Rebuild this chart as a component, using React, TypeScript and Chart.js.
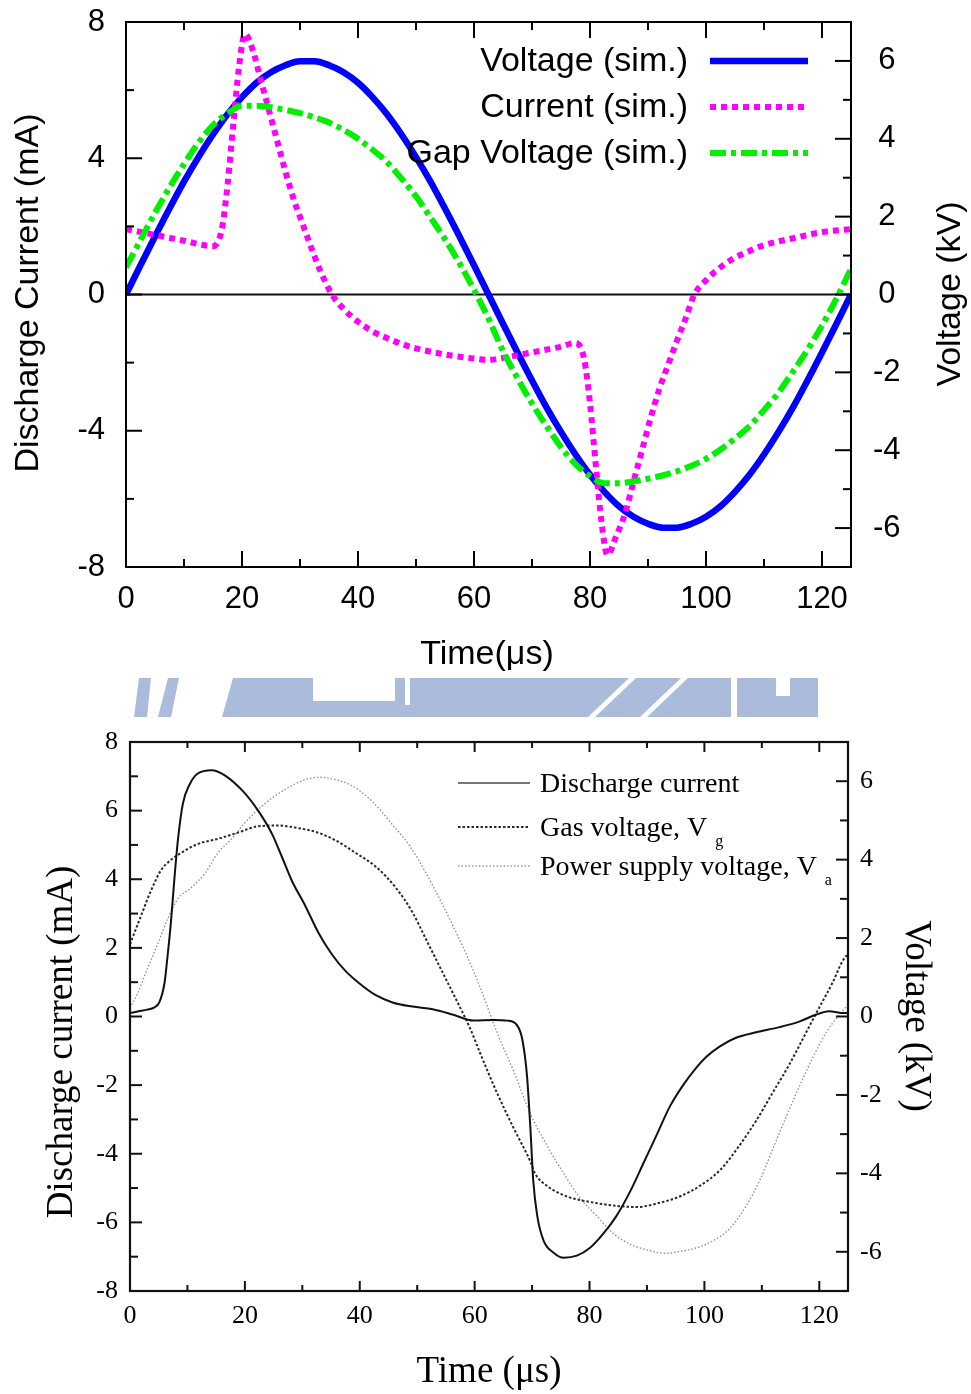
import React, { useEffect, useRef } from "react";
import { Chart, registerables } from "chart.js";
Chart.register(...registerables);

// ---------------- Top chart: simulation ----------------
const simTime = [0, 2.5, 5, 7.5, 10, 12.5, 15, 17.5, 20, 22.5, 25, 27.5, 30, 32.5, 35, 37.5, 40, 42.5, 45, 47.5, 50,
  52.5, 55, 57.5, 60, 62.5, 65, 67.5, 70, 72.5, 75, 77.5, 80, 82.5, 85, 87.5, 90, 92.5, 95, 97.5, 100,
  102.5, 105, 107.5, 110, 112.5, 115, 117.5, 120, 122.5, 125];
const simVoltage = [0, 0.75, 1.49, 2.21, 2.9, 3.53, 4.11, 4.63, 5.07, 5.44, 5.71, 5.89, 5.99, 5.99, 5.89, 5.71, 5.44,
  5.07, 4.63, 4.11, 3.53, 2.9, 2.21, 1.49, 0.75, 0, -0.75, -1.49, -2.21, -2.9, -3.53, -4.11, -4.63, -5.07, -5.44,
  -5.71, -5.89, -5.99, -5.99, -5.89, -5.71, -5.44, -5.07, -4.63, -4.11, -3.53, -2.9, -2.21, -1.49, -0.75, 0];
const simGapVoltage = [0.7, 1.4, 2.1, 2.75, 3.35, 3.9, 4.35, 4.65, 4.85, 4.85, 4.81, 4.74, 4.66, 4.55, 4.42, 4.23, 4.0,
  3.72, 3.4, 2.98, 2.52, 1.98, 1.42, 0.8, 0.12, -0.62, -1.45, -2.15, -2.8, -3.38, -3.92, -4.36, -4.66, -4.85, -4.85,
  -4.8, -4.73, -4.65, -4.54, -4.4, -4.22, -3.98, -3.7, -3.38, -2.97, -2.52, -1.98, -1.42, -0.8, -0.1, 0.66];
const simCurrentTime = [0, 5, 10, 15, 16.5, 17.5, 18.5, 19.5, 20.5, 22, 23, 24.5, 26, 27.5, 29, 30.5, 32, 33.5, 35.5,
  37.5, 40, 42.5, 45, 47.5, 50, 55, 60, 62.5, 65, 70, 75, 77.5, 79, 80, 81, 82, 83, 84.5, 86, 87.5, 89, 90.5, 92,
  93.5, 95, 96.5, 98, 100, 102.5, 105, 107.5, 110, 115, 120, 125];
const simCurrent = [1.92, 1.75, 1.58, 1.42, 1.9, 3.2, 5.0, 6.7, 7.65, 7.1, 6.45, 5.5, 4.55, 3.6, 2.75, 2.05, 1.35, 0.7,
  0.0, -0.42, -0.8, -1.08, -1.28, -1.45, -1.58, -1.76, -1.88, -1.92, -1.86, -1.7, -1.53, -1.42, -1.9, -3.2, -5.0,
  -6.7, -7.65, -7.1, -6.45, -5.5, -4.55, -3.6, -2.75, -2.05, -1.35, -0.7, 0.0, 0.42, 0.8, 1.08, 1.28, 1.45, 1.65,
  1.83, 1.92];
const simLabels = ["Gap Voltage (sim.)", "Current (sim.)", "Voltage (sim.)"];

const xMajorTicks = [0, 20, 40, 60, 80, 100, 120];
const xMinorTicks = [10, 30, 50, 70, 90, 110];
const topLeftTicks = [-8, -4, 0, 4, 8];
const topLeftMinor = [-6, -2, 2, 6];
const rightTicks = [-6, -4, -2, 0, 2, 4, 6];
const rightMinor = [-5, -3, -1, 1, 3, 5];

// ---------------- Bottom chart: experiment ----------------
const expCurrentTime = [0, 1.5, 3, 4.2, 5.1, 6, 6.5, 7.1, 7.7, 8.3, 9.2, 10.4, 11.8, 14.2, 16.5, 19.7, 22.3, 24.7,
  26.4, 28.2, 30.5, 32.9, 35.2, 37.5, 39.9, 42.8, 45.7, 49.2, 52.7, 56.3, 59.8, 63.4, 65.7, 67.4, 68.3, 69.1, 69.7,
  70.2, 70.9, 72, 73.8, 75.5, 77.8, 80.1, 82.4, 84.7, 87.1, 89.4, 91.7, 94, 96.3, 98.6, 100.3, 102.7, 105.5, 109,
  113.1, 116.5, 119.4, 121.7, 124.3, 125];
const expCurrent = [0.1, 0.15, 0.2, 0.26, 0.41, 0.97, 1.7, 2.7, 3.95, 5.08, 6.2, 6.77, 7.08, 7.18, 7.03, 6.56, 6.0,
  5.33, 4.67, 3.95, 3.23, 2.41, 1.8, 1.33, 0.97, 0.62, 0.41, 0.29, 0.21, 0.05, -0.12, -0.1, -0.12, -0.26, -0.67,
  -1.7, -3.24, -4.78, -5.81, -6.53, -6.89, -7.03, -6.97, -6.74, -6.33, -5.81, -5.09, -4.27, -3.45, -2.62, -2.0,
  -1.49, -1.18, -0.87, -0.62, -0.46, -0.31, -0.15, 0.05, 0.15, 0.1, 0.1];
const expGasTime = [0, 1.9, 3.6, 5.4, 7.1, 8.9, 11.8, 15.3, 18.8, 22.3, 25.8, 29.4, 32.3, 35.8, 39.3, 42.8, 46.3, 49.2,
  51.6, 54.5, 57.4, 59.2, 61, 63.9, 66.8, 69.7, 70.5, 72.6, 76.1, 80.1, 84.2, 88.2, 91.7, 95.7, 99.2, 102.7, 106.1,
  109, 111.9, 114.8, 117.7, 120, 122.3, 124, 125];
const expGasVoltage = [1.84, 2.56, 3.19, 3.73, 3.99, 4.17, 4.4, 4.53, 4.69, 4.85, 4.87, 4.8, 4.71, 4.49, 4.17, 3.82,
  3.28, 2.65, 1.95, 1.1, 0.25, -0.3, -0.95, -1.95, -2.85, -3.7, -4.0, -4.32, -4.59, -4.73, -4.82, -4.86, -4.77,
  -4.59, -4.32, -3.92, -3.29, -2.66, -1.94, -1.22, -0.41, 0.23, 0.86, 1.4, 1.6];
const expSupplyTime = [0, 1.3, 3, 4.8, 6.5, 8.3, 10.6, 13, 15.3, 17.7, 20, 23.5, 27, 30.5, 32.9, 35.2, 38.7, 42.2,
  45.7, 48.7, 51.6, 53.9, 56.3, 58.6, 60.9, 63.9, 66.8, 69.7, 72.6, 75.5, 78.4, 81.3, 84.2, 87.1, 89.9, 93.4, 95.7,
  98.6, 101.5, 104.4, 107.3, 109.6, 111.9, 114.2, 116.6, 118.9, 121.2, 123.5, 125];
const expSupplyVoltage = [0.22, 0.58, 1.21, 1.84, 2.47, 3.0, 3.28, 3.64, 4.17, 4.53, 4.94, 5.43, 5.79, 6.04, 6.1,
  6.06, 5.88, 5.48, 4.89, 4.35, 3.64, 3.0, 2.29, 1.57, 0.76, -0.41, -1.4, -2.48, -3.29, -4.0, -4.64, -5.09, -5.54,
  -5.81, -5.95, -6.04, -5.99, -5.9, -5.72, -5.41, -4.82, -4.19, -3.38, -2.57, -1.76, -1.04, -0.41, 0.05, 0.3];
const expLabels = ["Discharge current", "Gas voltage, V", "Power supply voltage, V"];
const expLabelSubs = ["", "g", "a"];
const expLeftTicks = [-8, -6, -4, -2, 0, 2, 4, 6, 8];
const expLeftMinor = [-7, -5, -3, -1, 1, 3, 5, 7];

const pts = (xs: number[], ys: number[]) => xs.map((x, i) => ({ x, y: ys[i] }));
const setTicks = (vals: number[]) => (s: any) => {
  s.ticks = vals.map((v) => ({ value: v }));
};
const fixSize = (w: number | null, h: number | null) => (s: any) => {
  if (w !== null) s.width = w;
  if (h !== null) s.height = h;
  s.paddingTop = 0;
  s.paddingBottom = 0;
  s.paddingLeft = 0;
  s.paddingRight = 0;
};

function decor(spec: any) {
  return {
    id: "decor",
    beforeDatasetsDraw(chart: any) {
      if (!spec.zeroLine) return;
      const { ctx, chartArea: a, scales } = chart;
      const y = scales.y.getPixelForValue(0);
      ctx.save();
      ctx.strokeStyle = spec.zeroLine.color;
      ctx.lineWidth = spec.zeroLine.width;
      ctx.beginPath();
      ctx.moveTo(a.left, y);
      ctx.lineTo(a.right, y);
      ctx.stroke();
      ctx.restore();
    },
    afterDatasetsDraw(chart: any) {
      const { ctx, chartArea: a, scales } = chart;
      const t = spec.ticks;
      ctx.save();
      ctx.setLineDash([]);
      ctx.lineCap = "butt";
      ctx.strokeStyle = t.color;
      ctx.lineWidth = t.width;
      const seg = (x1: number, y1: number, x2: number, y2: number) => {
        ctx.beginPath();
        ctx.moveTo(x1, y1);
        ctx.lineTo(x2, y2);
        ctx.stroke();
      };
      const xs = (vals: number[], len: number) =>
        vals.forEach((v) => {
          const p = scales.x.getPixelForValue(v);
          seg(p, a.bottom, p, a.bottom - len);
          seg(p, a.top, p, a.top + len);
        });
      xs(t.xMajor, t.xMajorLen);
      xs(t.xMinor, t.xMinorLen);
      t.yMajor.forEach((v: number) => { const p = scales.y.getPixelForValue(v); seg(a.left, p, a.left + t.yMajorLen, p); });
      t.yMinor.forEach((v: number) => { const p = scales.y.getPixelForValue(v); seg(a.left, p, a.left + t.yMinorLen, p); });
      t.y2Major.forEach((v: number) => { const p = scales.y2.getPixelForValue(v); seg(a.right, p, a.right - t.yMajorLen, p); });
      t.y2Minor.forEach((v: number) => { const p = scales.y2.getPixelForValue(v); seg(a.right, p, a.right - t.yMinorLen, p); });
      ctx.strokeStyle = spec.frame.color;
      ctx.lineWidth = spec.frame.width;
      ctx.strokeRect(a.left, a.top, a.right - a.left, a.bottom - a.top);

      ctx.fillStyle = "#000";
      spec.titles.forEach((ti: any) => {
        ctx.save();
        ctx.translate(ti.x, ti.y);
        ctx.rotate(ti.rot);
        ctx.font = ti.font;
        ctx.textAlign = "center";
        ctx.textBaseline = "middle";
        ctx.fillText(ti.text, 0, 0);
        ctx.restore();
      });

      const L = spec.legend;
      L.order.forEach((di: number, row: number) => {
        const ds = chart.data.datasets[di];
        const y = L.rowsY[row];
        ctx.save();
        ctx.strokeStyle = L.sampleColors ? L.sampleColors[row] : ds.borderColor;
        ctx.lineWidth = ds.borderWidth;
        ctx.setLineDash(ds.borderDash || []);
        ctx.beginPath();
        ctx.moveTo(L.sx1, y);
        ctx.lineTo(L.sx2, y);
        ctx.stroke();
        ctx.restore();
        ctx.font = L.font;
        ctx.textAlign = L.align;
        ctx.textBaseline = "middle";
        ctx.fillStyle = "#000";
        ctx.fillText(ds.label, L.tx, y + L.textDy);
        if (L.subs && L.subs[row]) {
          const w = ctx.measureText(ds.label).width;
          ctx.font = L.subFont;
          ctx.textAlign = "left";
          ctx.fillText(L.subs[row], L.tx + w + L.subDx, y + L.textDy + L.subDy);
        }
      });
      ctx.restore();
    },
  };
}

const sans = '"Liberation Sans", Arial, sans-serif';
const serif = '"Liberation Serif", "Times New Roman", serif';

function axisBase(font: any, padding: number, crossAlign = "near") {
  return {
    type: "linear",
    grid: { display: false, drawTicks: false },
    border: { display: false },
    ticks: { font, color: "#000", padding, autoSkip: false, maxRotation: 0, crossAlign },
  };
}

function topConfig(): any {
  const font = { family: sans, size: 31 };
  const line = { pointRadius: 0, fill: false, cubicInterpolationMode: "monotone", borderCapStyle: "butt", borderJoinStyle: "round" };
  return {
    type: "line",
    data: {
      datasets: [
        { ...line, label: simLabels[0], data: pts(simTime, simGapVoltage), yAxisID: "y2", borderColor: "#00f000", borderWidth: 6, borderDash: [16, 5, 5, 5], order: 0 },
        { ...line, label: simLabels[1], data: pts(simCurrentTime, simCurrent), yAxisID: "y", borderColor: "#ff00ff", borderWidth: 6, borderDash: [6, 5], order: 1 },
        { ...line, label: simLabels[2], data: pts(simTime, simVoltage), yAxisID: "y2", borderColor: "#0000ff", borderWidth: 6.5, order: 2 },
      ],
    },
    options: {
      responsive: false,
      animation: false,
      devicePixelRatio: 1,
      events: [],
      layout: { padding: { top: 22, left: 0, right: 0, bottom: 0 } },
      plugins: { legend: { display: false }, tooltip: { enabled: false } },
      scales: {
        x: { ...axisBase(font, 14), position: "bottom", min: 0, max: 125, afterBuildTicks: setTicks(xMajorTicks), afterFit: fixSize(null, 123) },
        y: { ...axisBase(font, 21), position: "left", min: -8, max: 8, afterBuildTicks: setTicks(topLeftTicks), afterFit: fixSize(126, null) },
        y2: { ...axisBase(font, 22, "center"), position: "right", min: -7, max: 7, afterBuildTicks: setTicks(rightTicks), afterFit: fixSize(120, null) },
      },
    },
    plugins: [
      decor({
        zeroLine: { color: "#111", width: 2 },
        frame: { color: "#000", width: 2 },
        ticks: { color: "#000", width: 2, xMajor: xMajorTicks, xMinor: xMinorTicks, xMajorLen: 16, xMinorLen: 8, yMajor: topLeftTicks, yMinor: topLeftMinor, y2Major: rightTicks, y2Minor: rightMinor, yMajorLen: 16, yMinorLen: 8 },
        titles: [
          { text: "Discharge Current (mA)", x: 29, y: 293, rot: -Math.PI / 2, font: `34px ${sans}` },
          { text: "Voltage (kV)", x: 951, y: 294, rot: -Math.PI / 2, font: `34px ${sans}` },
          { text: "Time(μs)", x: 487, y: 655, rot: 0, font: `34px ${sans}` },
        ],
        legend: { order: [2, 1, 0], rowsY: [61, 107, 153], font: `34px ${sans}`, align: "right", tx: 688, textDy: 1, sx1: 710, sx2: 808 },
      }),
    ],
  };
}

function bottomConfig(): any {
  const font = { family: serif, size: 26 };
  const line = { pointRadius: 0, fill: false, cubicInterpolationMode: "monotone", borderCapStyle: "butt", borderJoinStyle: "round" };
  return {
    type: "line",
    data: {
      datasets: [
        { ...line, label: expLabels[0], data: pts(expCurrentTime, expCurrent), yAxisID: "y", borderColor: "#111", borderWidth: 2, order: 0 },
        { ...line, label: expLabels[1], data: pts(expGasTime, expGasVoltage), yAxisID: "y2", borderColor: "#2a2a2a", borderWidth: 2, borderDash: [2.5, 2], order: 1 },
        { ...line, label: expLabels[2], data: pts(expSupplyTime, expSupplyVoltage), yAxisID: "y2", borderColor: "#8c8c8c", borderWidth: 1.3, borderDash: [1.5, 2], order: 2 },
      ],
    },
    options: {
      responsive: false,
      animation: false,
      devicePixelRatio: 1,
      events: [],
      layout: { padding: { top: 22, left: 0, right: 0, bottom: 0 } },
      plugins: { legend: { display: false }, tooltip: { enabled: false } },
      scales: {
        x: { ...axisBase(font, 10), position: "bottom", min: 0, max: 125, afterBuildTicks: setTicks(xMajorTicks), afterFit: fixSize(null, 103) },
        y: { ...axisBase(font, 12), position: "left", min: -8, max: 8, afterBuildTicks: setTicks(expLeftTicks), afterFit: fixSize(130, null) },
        y2: { ...axisBase(font, 12), position: "right", min: -7, max: 7, afterBuildTicks: setTicks(rightTicks), afterFit: fixSize(123, null) },
      },
    },
    plugins: [
      decor({
        frame: { color: "#111", width: 2.2 },
        ticks: { color: "#111", width: 2, xMajor: xMajorTicks, xMinor: xMinorTicks, xMajorLen: 10, xMinorLen: 6, yMajor: expLeftTicks, yMinor: expLeftMinor, y2Major: rightTicks, y2Minor: rightMinor, yMajorLen: 12, yMinorLen: 8 },
        titles: [
          { text: "Discharge current (mA)", x: 62, y: 322, rot: -Math.PI / 2, font: `37px ${serif}` },
          { text: "Voltage (kV)", x: 916, y: 296, rot: Math.PI / 2, font: `37px ${serif}` },
          { text: "Time (μs)", x: 489, y: 652, rot: 0, font: `37px ${serif}` },
        ],
        legend: { order: [0, 1, 2], rowsY: [63, 107, 146], font: `28px ${serif}`, align: "left", tx: 540, textDy: 2, sx1: 458, sx2: 530, subs: expLabelSubs, subFont: `16px ${serif}`, subDx: 8, subDy: 13, sampleColors: ["#777", "#2a2a2a", "#999"] },
      }),
    ],
  };
}

function Watermark() {
  const c = "#aabbdc";
  return (
    <svg width={971} height={1394} style={{ position: "absolute", left: 0, top: 0 }}>
      <polygon points="134,717 139,678 151,678 147,717" fill={c} />
      <polygon points="158,717 168,678 179,678 171,717" fill={c} />
      <polygon points="222,717 233,678 818,678 818,717" fill={c} />
      <rect x={313} y={678} width={82} height={23} fill="#fff" />
      <rect x={405} y={678} width={5} height={27} fill="#fff" />
      <polygon points="588,717 595,717 636,678 629,678" fill="#fff" />
      <polygon points="640,717 647,717 688,678 681,678" fill="#fff" />
      <rect x={731} y={678} width={6} height={39} fill="#fff" />
      <rect x={776} y={678} width={14} height={18} fill="#fff" />
    </svg>
  );
}

export default function App() {
  const topRef = useRef<HTMLCanvasElement>(null);
  const botRef = useRef<HTMLCanvasElement>(null);
  useEffect(() => {
    const c1 = new Chart(topRef.current as HTMLCanvasElement, topConfig());
    const c2 = new Chart(botRef.current as HTMLCanvasElement, bottomConfig());
    return () => {
      c1.destroy();
      c2.destroy();
    };
  }, []);
  return (
    <div style={{ position: "absolute", left: 0, top: 0, width: 971, height: 1394, background: "#fff", overflow: "hidden" }}>
      <Watermark />
      <canvas ref={topRef} width={971} height={690} style={{ position: "absolute", left: 0, top: 0 }} />
      <canvas ref={botRef} width={971} height={674} style={{ position: "absolute", left: 0, top: 720 }} />
    </div>
  );
}
